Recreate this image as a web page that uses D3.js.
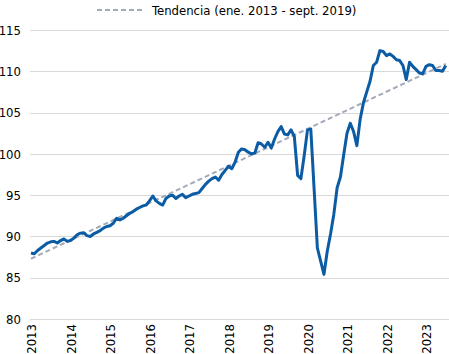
<!DOCTYPE html>
<html>
<head>
<meta charset="utf-8">
<script src="https://cdn.jsdelivr.net/npm/d3@7"></script>
<style>
  body { margin: 0; background: #fff; }
  svg text { font-family: "DejaVu Sans Condensed", "Liberation Sans", sans-serif; fill: #000; }
</style>
</head>
<body>
<div id="chart"></div>
<script>
// monthly index, ene. 2013 - jul. 2023
var startYear = 2013;
var values = [
  88.0, 87.9, 88.3, 88.6, 88.9, 89.2, 89.35, 89.4, 89.2, 89.5, 89.7, 89.4,
  89.5, 89.8, 90.2, 90.4, 90.45, 90.1, 90.0, 90.3, 90.5, 90.7, 91.0, 91.2,
  91.3, 91.6, 92.2, 92.0, 92.2, 92.5, 92.8, 93.0, 93.3, 93.5, 93.7, 93.8,
  94.3, 94.9, 94.3, 94.0, 93.8, 94.6, 94.9, 95.0, 94.6, 94.9, 95.1, 94.7,
  94.9, 95.1, 95.2, 95.3, 95.8, 96.3, 96.7, 97.0, 97.2, 96.8, 97.5, 98.0,
  98.5, 98.2, 99.0, 100.2, 100.6, 100.5, 100.2, 100.0, 100.1, 101.35, 101.2, 100.8,
  101.4, 100.7, 101.8, 102.7, 103.3, 102.4, 102.3, 102.9, 102.1, 97.4, 97.0, 99.8,
  102.9, 103.0, 95.8, 88.6, 87.0, 85.4, 88.2, 90.3, 92.7, 95.9, 97.2, 99.9,
  102.5, 103.7, 102.7, 101.0, 104.2, 106.2, 107.5, 108.8, 110.7, 111.1, 112.5, 112.4,
  111.9, 112.1, 111.8, 111.4, 111.3, 110.7, 109.0, 111.1, 110.6, 110.2, 109.8, 109.7,
  110.6, 110.8, 110.7, 110.1, 110.1, 110.0, 110.7
];
// trend endpoints (month index, value)
var trendIdx = [0, 126];
var trendVals = [87.3, 110.9];
var yTicks = [80, 85, 90, 95, 100, 105, 110, 115];
var yearTicks = [2013, 2014, 2015, 2016, 2017, 2018, 2019, 2020, 2021, 2022, 2023];
var legendLabel = "Tendencia (ene. 2013 - sept. 2019)";

var width = 449, height = 354;

var svg = d3.select("#chart").append("svg")
    .attr("width", width)
    .attr("height", height);

var x = d3.scaleLinear()
    .domain([2013, 2024])
    .range([31, 465.5]);

var y = d3.scaleLinear()
    .domain([80, 115])
    .range([319, 30]);

function monthX(i) { return x(startYear + i / 12); }

// gridlines
svg.append("g")
    .selectAll("line")
    .data(yTicks)
    .enter()
    .append("line")
    .attr("x1", 30)
    .attr("x2", width)
    .attr("y1", function(d) { return Math.round(y(d)) + 0.5; })
    .attr("y2", function(d) { return Math.round(y(d)) + 0.5; })
    .attr("stroke", "#d9d9d9")
    .attr("stroke-width", 1);

// y labels
svg.append("g")
    .selectAll("text")
    .data(yTicks)
    .enter()
    .append("text")
    .attr("x", 21)
    .attr("y", function(d) { return y(d); })
    .attr("dy", "0.36em")
    .attr("text-anchor", "end")
    .style("font-size", "13px")
    .text(function(d) { return d; });

// x labels (rotated)
svg.append("g")
    .selectAll("text")
    .data(yearTicks)
    .enter()
    .append("text")
    .attr("transform", function(d) { return "translate(" + (x(d) + 5) + ",324) rotate(-90)"; })
    .attr("text-anchor", "end")
    .style("font-size", "13px")
    .text(function(d) { return d; });

// trend line
var trendData = trendIdx.map(function(d, i) { return [d, trendVals[i]]; });
svg.append("path")
    .datum(trendData)
    .attr("d", d3.line()
        .x(function(d) { return monthX(d[0]); })
        .y(function(d) { return y(d[1]); }))
    .attr("fill", "none")
    .attr("stroke", "#a3aab9")
    .attr("stroke-width", 2)
    .attr("stroke-dasharray", "5,3");

// main series
svg.append("path")
    .datum(values)
    .attr("d", d3.line()
        .x(function(d, i) { return monthX(i); })
        .y(function(d) { return y(d); }))
    .attr("fill", "none")
    .attr("stroke", "#0b5ca5")
    .attr("stroke-width", 3)
    .attr("stroke-linejoin", "round");

// legend
svg.append("line")
    .attr("x1", 97)
    .attr("x2", 145)
    .attr("y1", 10)
    .attr("y2", 10)
    .attr("stroke", "#a3aab9")
    .attr("stroke-width", 2)
    .attr("stroke-dasharray", "5,3");

svg.append("text")
    .attr("x", 152)
    .attr("y", 15)
    .style("font-size", "13px")
    .text(legendLabel);
</script>
</body>
</html>
